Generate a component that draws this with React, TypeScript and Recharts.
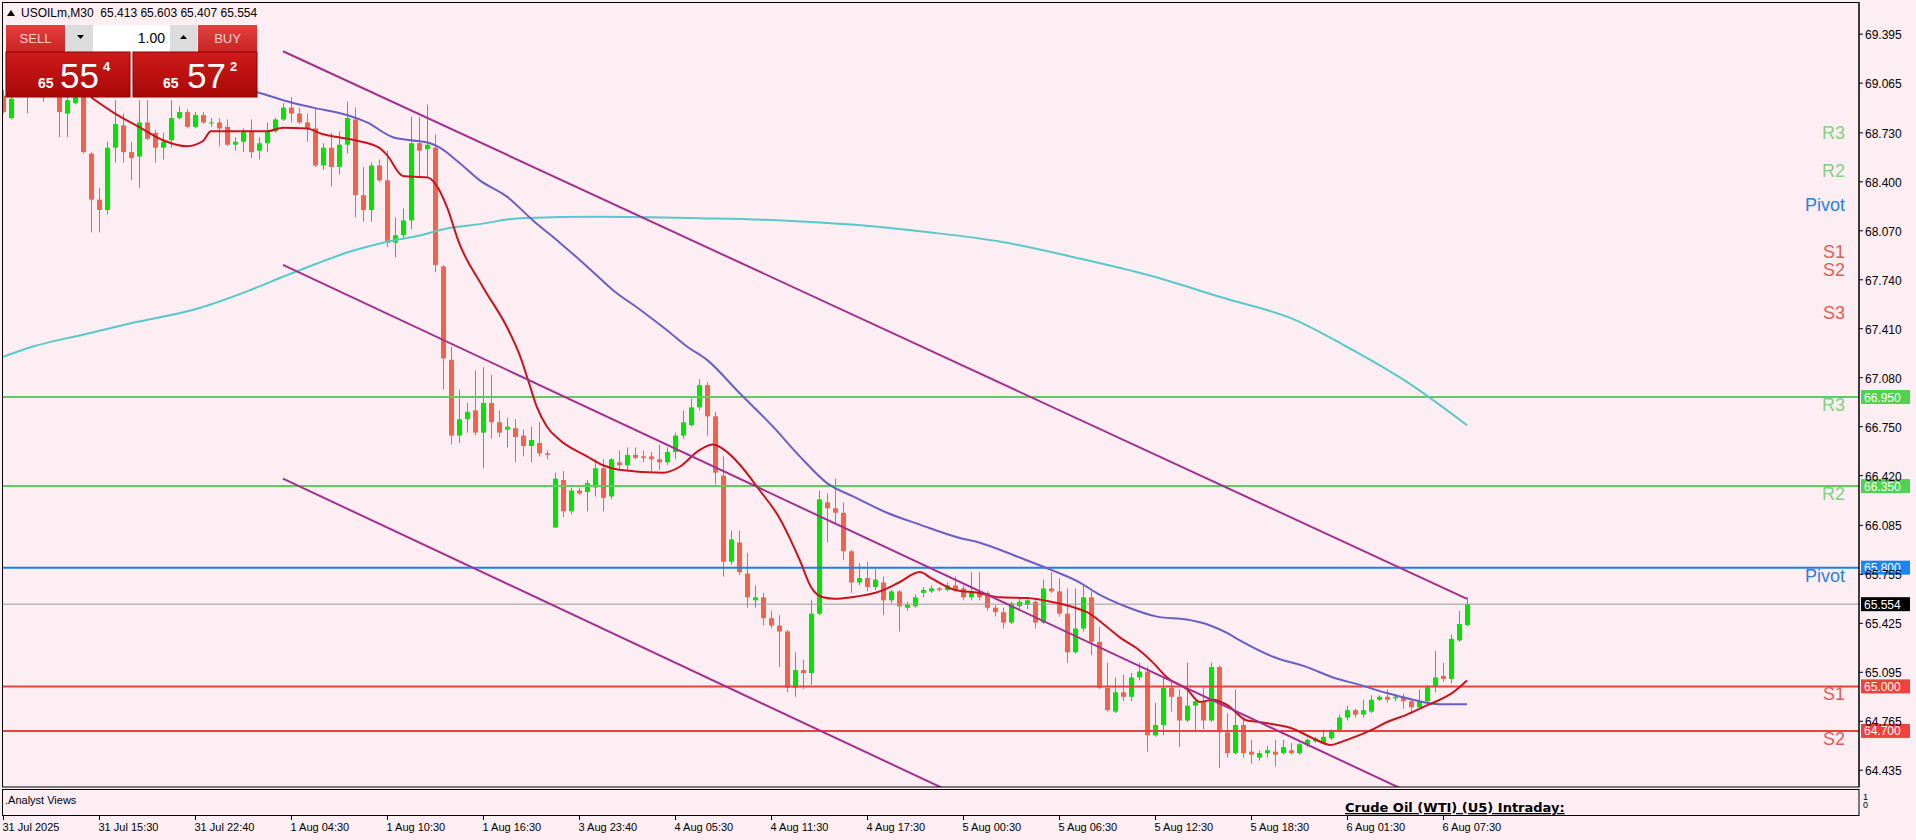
import React from 'react';
import { ComposedChart, Bar, Line, XAxis, YAxis, ReferenceLine } from 'recharts';

// USOILm M30 bars, [open, high, low, close], oldest first
const ohlc: number[][] = [
  [68.98, 69.02, 68.86, 68.87], [68.83, 68.99, 68.82, 68.96], [68.99, 69.05, 68.98, 69.02], [69.02, 69.06, 68.86, 69.0],
  [69.0, 69.04, 68.98, 69.01], [69.01, 69.03, 68.94, 68.99], [68.99, 69.04, 68.98, 69.02], [69.02, 69.05, 68.7, 68.87],
  [68.86, 68.98, 68.7, 68.95], [68.93, 68.99, 68.92, 68.97], [68.98, 69.0, 68.59, 68.6], [68.59, 68.6, 68.06, 68.28],
  [68.28, 68.36, 68.06, 68.21], [68.21, 68.67, 68.18, 68.63], [68.63, 68.95, 68.53, 68.79], [68.78, 68.86, 68.53, 68.6],
  [68.6, 68.67, 68.41, 68.56], [68.57, 68.95, 68.36, 68.8], [68.8, 68.95, 68.68, 68.69], [68.73, 68.75, 68.53, 68.63],
  [68.63, 68.73, 68.55, 68.67], [68.68, 68.95, 68.63, 68.83], [68.83, 68.91, 68.82, 68.87], [68.87, 68.89, 68.76, 68.77],
  [68.77, 68.87, 68.76, 68.85], [68.85, 68.87, 68.79, 68.8], [68.8, 68.83, 68.77, 68.8], [68.8, 68.83, 68.64, 68.76],
  [68.77, 68.82, 68.64, 68.65], [68.65, 68.7, 68.61, 68.67], [68.67, 68.76, 68.6, 68.74], [68.74, 68.82, 68.56, 68.6],
  [68.61, 68.7, 68.55, 68.66], [68.66, 68.8, 68.6, 68.74], [68.74, 68.83, 68.73, 68.82], [68.82, 68.93, 68.81, 68.9],
  [68.9, 68.97, 68.8, 68.86], [68.86, 68.9, 68.79, 68.8], [68.8, 68.86, 68.67, 68.76], [68.76, 68.9, 68.5, 68.51],
  [68.51, 68.66, 68.48, 68.63], [68.63, 68.73, 68.37, 68.5], [68.5, 68.74, 68.45, 68.65], [68.65, 68.94, 68.59, 68.83],
  [68.82, 68.9, 68.16, 68.31], [68.31, 68.5, 68.13, 68.21], [68.21, 68.53, 68.13, 68.51], [68.51, 68.55, 68.4, 68.41],
  [68.41, 68.61, 67.96, 67.99], [67.99, 68.16, 67.89, 68.04], [68.04, 68.22, 68.02, 68.14], [68.14, 68.84, 68.08, 68.66],
  [68.66, 68.84, 68.43, 68.61], [68.62, 68.92, 68.43, 68.65], [68.63, 68.72, 67.79, 67.84], [67.83, 67.84, 67.0, 67.21],
  [67.2, 67.29, 66.63, 66.69], [66.69, 67.0, 66.64, 66.8], [66.8, 66.91, 66.71, 66.85], [66.86, 67.13, 66.69, 66.71],
  [66.71, 67.15, 66.47, 66.91], [66.91, 67.1, 66.67, 66.78], [66.78, 66.86, 66.68, 66.71], [66.73, 66.81, 66.61, 66.75],
  [66.74, 66.8, 66.51, 66.68], [66.69, 66.73, 66.55, 66.62], [66.62, 66.75, 66.51, 66.66], [66.64, 66.78, 66.55, 66.57],
  [66.57, 66.59, 66.53, 66.56], [66.07, 66.44, 66.07, 66.4], [66.39, 66.45, 66.14, 66.18], [66.18, 66.34, 66.16, 66.32],
  [66.32, 66.34, 66.29, 66.3], [66.31, 66.39, 66.18, 66.37], [66.34, 66.53, 66.28, 66.47], [66.47, 66.53, 66.18, 66.27],
  [66.28, 66.54, 66.26, 66.53], [66.51, 66.59, 66.46, 66.49], [66.49, 66.61, 66.45, 66.56], [66.56, 66.61, 66.53, 66.54],
  [66.55, 66.59, 66.51, 66.54], [66.55, 66.58, 66.45, 66.53], [66.53, 66.63, 66.46, 66.51], [66.51, 66.61, 66.49, 66.58],
  [66.58, 66.71, 66.53, 66.69], [66.69, 66.86, 66.67, 66.78], [66.76, 66.94, 66.75, 66.88], [66.88, 67.07, 66.86, 67.03],
  [67.03, 67.05, 66.69, 66.82], [66.82, 66.85, 66.36, 66.44], [66.42, 66.55, 65.74, 65.84], [65.84, 66.05, 65.82, 65.99],
  [65.97, 66.05, 65.75, 65.77], [65.76, 65.9, 65.53, 65.6], [65.58, 65.68, 65.53, 65.6], [65.6, 65.63, 65.41, 65.46],
  [65.46, 65.51, 65.39, 65.41], [65.41, 65.48, 65.13, 65.37], [65.37, 65.38, 64.96, 64.99], [64.99, 65.23, 64.93, 65.11],
  [65.11, 65.18, 64.98, 65.09], [65.09, 65.58, 65.01, 65.49], [65.49, 66.32, 65.48, 66.26], [66.24, 66.3, 65.97, 66.2],
  [66.2, 66.4, 66.1, 66.17], [66.17, 66.24, 65.85, 65.91], [65.91, 65.92, 65.63, 65.7], [65.7, 65.83, 65.68, 65.73],
  [65.73, 65.84, 65.64, 65.67], [65.67, 65.79, 65.65, 65.72], [65.7, 65.74, 65.48, 65.58], [65.58, 65.65, 65.56, 65.64],
  [65.64, 65.65, 65.37, 65.54], [65.53, 65.57, 65.51, 65.55], [65.54, 65.62, 65.53, 65.6], [65.63, 65.67, 65.6, 65.65],
  [65.64, 65.68, 65.63, 65.66], [65.66, 65.67, 65.64, 65.65], [65.65, 65.7, 65.64, 65.68], [65.68, 65.74, 65.64, 65.65],
  [65.66, 65.68, 65.58, 65.6], [65.6, 65.77, 65.58, 65.64], [65.64, 65.77, 65.58, 65.6], [65.63, 65.64, 65.51, 65.53],
  [65.53, 65.55, 65.47, 65.5], [65.5, 65.53, 65.39, 65.43], [65.43, 65.57, 65.42, 65.56], [65.54, 65.6, 65.52, 65.57],
  [65.55, 65.6, 65.52, 65.58], [65.57, 65.58, 65.39, 65.43], [65.43, 65.72, 65.42, 65.66], [65.66, 65.77, 65.63, 65.64],
  [65.64, 65.73, 65.47, 65.49], [65.49, 65.66, 65.16, 65.23], [65.23, 65.66, 65.22, 65.39], [65.39, 65.68, 65.37, 65.6],
  [65.6, 65.64, 65.21, 65.3], [65.3, 65.4, 64.98, 64.99], [64.99, 65.16, 64.83, 64.84], [64.83, 65.06, 64.82, 64.96],
  [64.96, 65.08, 64.9, 64.93], [64.93, 65.09, 64.9, 65.06], [65.06, 65.16, 65.04, 65.1], [65.1, 65.13, 64.56, 64.67],
  [64.67, 64.89, 64.66, 64.74], [64.74, 65.06, 64.67, 64.99], [64.99, 65.04, 64.83, 64.93], [64.93, 64.98, 64.59, 64.77],
  [64.77, 65.16, 64.76, 64.87], [64.87, 64.91, 64.69, 64.9], [64.9, 64.99, 64.71, 64.77], [64.77, 65.16, 64.76, 65.13],
  [65.13, 65.14, 64.45, 64.69], [64.69, 64.82, 64.52, 64.55], [64.55, 64.98, 64.54, 64.74], [64.74, 64.79, 64.52, 64.55],
  [64.56, 64.64, 64.48, 64.54], [64.52, 64.57, 64.5, 64.55], [64.55, 64.6, 64.52, 64.57], [64.56, 64.64, 64.46, 64.54],
  [64.55, 64.64, 64.54, 64.59], [64.57, 64.62, 64.54, 64.55], [64.55, 64.62, 64.54, 64.61], [64.61, 64.65, 64.59, 64.64],
  [64.63, 64.66, 64.62, 64.65], [64.62, 64.71, 64.61, 64.66], [64.65, 64.71, 64.64, 64.7], [64.7, 64.81, 64.69, 64.79],
  [64.79, 64.87, 64.77, 64.84], [64.84, 64.85, 64.79, 64.81], [64.81, 64.91, 64.79, 64.84], [64.83, 64.94, 64.82, 64.91],
  [64.91, 64.94, 64.9, 64.93], [64.93, 64.98, 64.89, 64.91], [64.92, 64.95, 64.9, 64.93], [64.93, 64.95, 64.85, 64.9],
  [64.9, 64.91, 64.83, 64.86], [64.86, 64.98, 64.85, 64.9], [64.9, 65.01, 64.88, 65.0], [65.0, 65.24, 64.96, 65.06],
  [65.07, 65.16, 65.03, 65.05], [65.05, 65.35, 65.02, 65.32], [65.31, 65.51, 65.3, 65.42], [65.413, 65.603, 65.407, 65.554],
];

// moving averages, [bar index, price]
const redMA: number[][] = [
  [11, 68.97], [14, 68.86], [17, 68.77], [20, 68.68], [23, 68.64], [25, 68.675], [26, 68.74], [33, 68.74], [35, 68.765],
  [38, 68.76], [40, 68.72], [42, 68.70], [44, 68.68], [47, 68.63], [48, 68.58], [50, 68.44], [53, 68.43], [54, 68.39],
  [55.5, 68.23], [57, 67.99], [60, 67.69], [63, 67.42], [64.6, 67.23], [65.6, 67.07], [66.75, 66.88], [68, 66.75],
  [69.6, 66.66], [73, 66.55], [75, 66.49], [77, 66.46], [82.5, 66.44], [84.6, 66.48], [87, 66.59], [88.75, 66.63],
  [90.5, 66.58], [92, 66.5], [94.6, 66.32], [97, 66.14], [99.6, 65.85], [101, 65.67], [102.5, 65.6], [104, 65.59],
  [106, 65.6], [109.6, 65.64], [112, 65.7], [114.6, 65.77], [116, 65.73], [119, 65.65], [122, 65.63], [124.6, 65.6],
  [128, 65.595], [131, 65.57], [134, 65.53], [135.5, 65.5], [138, 65.4], [139.6, 65.33], [142, 65.245], [143.75, 65.16],
  [145.5, 65.06], [148, 64.98], [149.6, 64.895], [151.25, 64.91], [153, 64.875], [155.5, 64.77], [157, 64.76],
  [158.75, 64.745], [161, 64.72], [163.75, 64.65], [166, 64.605], [167, 64.62], [169, 64.66], [171, 64.705],
  [173, 64.76], [175.5, 64.81], [177.5, 64.86], [179.6, 64.91], [181.25, 64.96], [183, 65.04],
];
const blueMA: number[][] = [
  [26, 69.05], [32, 69.0], [35, 68.95], [38.75, 68.9], [43, 68.85], [45.5, 68.8], [48.75, 68.7], [51, 68.68],
  [53.4, 68.66], [54.6, 68.63], [57, 68.53], [59.6, 68.41], [63, 68.3], [66.25, 68.14], [69.6, 67.99], [73, 67.83],
  [76.25, 67.67], [79.6, 67.54], [83, 67.4], [85.5, 67.29], [88, 67.2], [92, 66.98], [96.25, 66.75], [99.6, 66.55],
  [103, 66.37], [106.25, 66.28], [110.5, 66.17], [114.6, 66.09], [119.6, 66.0], [122, 65.97], [127, 65.87],
  [131.25, 65.78], [134.6, 65.7], [137, 65.62], [140.5, 65.535], [144.25, 65.47], [148, 65.45], [150.9, 65.41],
  [153, 65.36], [154.6, 65.31], [158.75, 65.2], [163, 65.13], [166.25, 65.06], [169.6, 65.01], [173, 64.955],
  [176.25, 64.91], [179.6, 64.88], [183, 64.88],
];
const cyanMA: number[][] = [
  [0, 67.22], [3.75, 67.29], [10, 67.37], [16.25, 67.45], [24.6, 67.55], [30.9, 67.67], [35, 67.76], [39.25, 67.85],
  [43.4, 67.93], [47.5, 67.99], [51.75, 68.035], [55.9, 68.09], [59.6, 68.115], [64.6, 68.155], [74.6, 68.165],
  [87, 68.155], [97.4, 68.14], [106.5, 68.11], [115.75, 68.06], [124.9, 67.995], [134, 67.89], [143.25, 67.77],
  [152.4, 67.62], [161.5, 67.47], [167.6, 67.3], [175.25, 67.06], [183, 66.76],
];

// descending channel
const channelTop: number[][] = [[35, 69.28], [183, 65.59]];
const channelMid: number[][] = [[35, 67.84], [176, 64.28]];
const channelLow: number[][] = [[35, 66.4], [120, 64.25]];

const levelNames = ['R3', 'R2', 'Pivot', 'S1', 'S2'];
const levelValues = [66.95, 66.35, 65.8, 65.0, 64.7];
const oldLevelNames = ['R3', 'R2', 'Pivot', 'S1', 'S2', 'S3'];
const oldLevelValues = [68.78, 68.53, 68.3, 67.98, 67.86, 67.57];
const lastPrice = 65.554;

const priceTicks = [
  69.395, 69.065, 68.73, 68.4, 68.07, 67.74, 67.41, 67.08, 66.75, 66.42, 66.085, 65.755, 65.425, 65.095, 64.765, 64.435,
];
const timeTickIdx = [0, 12, 24, 36, 48, 60, 72, 84, 96, 108, 120, 132, 144, 156, 168, 180];
const timeLabels = [
  '31 Jul 2025', '31 Jul 15:30', '31 Jul 22:40', '1 Aug 04:30', '1 Aug 10:30', '1 Aug 16:30', '3 Aug 23:40',
  '4 Aug 05:30', '4 Aug 11:30', '4 Aug 17:30', '5 Aug 00:30', '5 Aug 06:30', '5 Aug 12:30', '5 Aug 18:30',
  '6 Aug 01:30', '6 Aug 07:30',
];

const BG = '#fdeef3';
const UP = '#00e400';
const DOWN = '#f2634d';
const FONT = '"Liberation Sans", Arial, sans-serif';
const levelLine = ['#5fcc5f', '#5fcc5f', '#1e7fe0', '#e3463f', '#e3463f'];
const levelText = ['#7fd27f', '#7fd27f', '#2a7fd8', '#e35b55', '#e35b55'];
const levelBox = ['#4fd34f', '#4fd34f', '#1a84f2', '#f0423a', '#f0423a'];
const oldLevelText = ['#7fd27f', '#7fd27f', '#2a7fd8', '#e35b55', '#e35b55', '#e35b55'];

const candles = ohlc.map(([open, high, low, close], i) => ({ i, open, high, low, close }));
const pts = (a: number[][]) => a.map(([i, v]) => ({ i, v }));

const Candle = (props: any) => {
  const { x, y, width, height, payload } = props;
  if (x == null || y == null || !payload) return null;
  const { open, high, low, close } = payload;
  const color = close >= open ? UP : DOWN;
  const k = high > low ? height / (high - low) : 0;
  const cx = Math.round(x + width / 2) + 0.5;
  const top = y + (high - Math.max(open, close)) * k;
  const bot = y + (high - Math.min(open, close)) * k;
  return (
    <g>
      <line x1={cx} x2={cx} y1={y} y2={y + height} stroke={color} strokeWidth={1} />
      <rect x={cx - 2.5} y={top} width={5} height={Math.max(1, bot - top)} fill={color} />
    </g>
  );
};

const PriceTick = (p: any) => (
  <g>
    <line x1={1859} x2={1863} y1={p.y} y2={p.y} stroke="#000" />
    <text x={1865} y={p.y + 5} fontSize={12} fontFamily={FONT} fill="#000">
      {Number(p.payload.value).toFixed(3)}
    </text>
  </g>
);

const TimeTick = (p: any) => {
  const n = timeTickIdx.indexOf(p.payload.value);
  const x = Math.round(p.x) + 0.5;
  return (
    <g>
      <line x1={x} x2={x} y1={816} y2={820} stroke="#000" />
      <text x={x - 1} y={831} fontSize={11} fontFamily={FONT} fill="#000">{timeLabels[n]}</text>
    </g>
  );
};

const levelLabel = (name: string, value: number, textColor: string, boxColor: string) => (p: any) => {
  const vb = p.viewBox || {};
  const right = vb.x + vb.width;
  const y = vb.y;
  return (
    <g>
      {name && (
        <text x={right - 14} y={y + 14} textAnchor="end" fontSize={18} fontFamily={FONT} fill={textColor}>{name}</text>
      )}
      {boxColor && <rect x={right + 2} y={y - 7} width={49} height={14} fill={boxColor} />}
      {boxColor && (
        <text x={right + 5} y={y + 4.5} fontSize={12} fontFamily={FONT} fill="#fff">{value.toFixed(3)}</text>
      )}
    </g>
  );
};

const Overlay = () => (
  <svg width={1916} height={840} style={{ position: 'absolute', left: 0, top: 0 }}>
    <defs>
      <linearGradient id="btn" x1="0" y1="0" x2="0" y2="1">
        <stop offset="0" stopColor="#e34040" />
        <stop offset="1" stopColor="#c82424" />
      </linearGradient>
      <linearGradient id="px" x1="0" y1="0" x2="0" y2="1">
        <stop offset="0" stopColor="#cf1a1a" />
        <stop offset="1" stopColor="#a80808" />
      </linearGradient>
    </defs>
    <rect x={2.5} y={2.5} width={1856.5} height={784.5} fill="none" stroke="#000" />
    <rect x={2.5} y={789.5} width={1856.5} height={26} fill="none" stroke="#000" />
    <text x={5} y={804} fontSize={11} fontFamily={FONT} fill="#000">.Analyst Views</text>
    <text x={1345} y={812} fontSize={13} fontWeight="bold" fontFamily='"DejaVu Sans", sans-serif' fill="#000" textDecoration="underline">
      Crude Oil (WTI) (U5) Intraday:
    </text>
    <text x={1863} y={800} fontSize={9} fontFamily={FONT} fill="#000">1</text>
    <text x={1863} y={808} fontSize={9} fontFamily={FONT} fill="#000">0</text>

    <polygon points="7,16 15,16 11,10" fill="#000" />
    <text x={21} y={17} fontSize={12} fontFamily={FONT} fill="#000" xmlSpace="preserve">USOILm,M30  65.413 65.603 65.407 65.554</text>

    <rect x={6} y={25} width={59} height={27} fill="url(#btn)" />
    <text x={35.5} y={43} textAnchor="middle" fontSize={13} fontFamily={FONT} fill="#ffd2d2">SELL</text>
    <rect x={67} y={25} width={26} height={27} fill="#dcdcdc" />
    <polygon points="77,35 84,35 80.5,39" fill="#000" />
    <rect x={93} y={25} width={77} height={27} fill="#fff" />
    <text x={165} y={43} textAnchor="end" fontSize={14} fontFamily={FONT} fill="#000">1.00</text>
    <rect x={170} y={25} width={27} height={27} fill="#dcdcdc" />
    <polygon points="180,39 187,39 183.5,35" fill="#000" />
    <rect x={198} y={25} width={59} height={27} fill="url(#btn)" />
    <text x={227.5} y={43} textAnchor="middle" fontSize={13} fontFamily={FONT} fill="#ffd2d2">BUY</text>

    <rect x={6} y={52} width={124} height={45} fill="url(#px)" stroke="#8c0000" />
    <text x={38} y={88} fontSize={14} fontWeight="bold" fontFamily={FONT} fill="#fff">65</text>
    <text x={60} y={88} fontSize={35} fontFamily={FONT} fill="#fff">55</text>
    <text x={103} y={71} fontSize={13} fontWeight="bold" fontFamily={FONT} fill="#fff">4</text>
    <rect x={133} y={52} width={124} height={45} fill="url(#px)" stroke="#8c0000" />
    <text x={163} y={88} fontSize={14} fontWeight="bold" fontFamily={FONT} fill="#fff">65</text>
    <text x={187} y={88} fontSize={35} fontFamily={FONT} fill="#fff">57</text>
    <text x={230} y={71} fontSize={13} fontWeight="bold" fontFamily={FONT} fill="#fff">2</text>
  </svg>
);

export default function App() {
  return (
    <div style={{ position: 'absolute', left: 0, top: 0, width: 1916, height: 840, background: BG, overflow: 'hidden' }}>
      <ComposedChart width={1916} height={840} data={candles} margin={{ top: 3, right: 0, bottom: 0, left: 3 }}>
        <XAxis
          dataKey="i"
          type="number"
          domain={[0, 232]}
          ticks={timeTickIdx}
          interval={0}
          height={53}
          axisLine={false}
          tickLine={false}
          tick={<TimeTick />}
          allowDataOverflow
        />
        <YAxis
          orientation="right"
          type="number"
          domain={[64.322, 69.605]}
          ticks={priceTicks}
          interval={0}
          width={57}
          axisLine={{ stroke: '#000' }}
          tickLine={false}
          tick={<PriceTick />}
          allowDataOverflow
        />
        {oldLevelValues.map((v, n) => (
          <ReferenceLine key={'o' + n} y={v} stroke="none" label={levelLabel(oldLevelNames[n], v, oldLevelText[n], '')} />
        ))}
        {levelValues.map((v, n) => (
          <ReferenceLine key={'l' + n} y={v} stroke={levelLine[n]} strokeWidth={2}
            label={levelLabel(levelNames[n], v, levelText[n], levelBox[n])} />
        ))}
        <ReferenceLine y={lastPrice} stroke="#9a9a9a" strokeWidth={1} label={levelLabel('', lastPrice, '#000', '#000')} />
        <Line data={pts(cyanMA)} dataKey="v" type="monotone" stroke="#58c9c9" strokeWidth={2} dot={false} isAnimationActive={false} />
        <Bar dataKey={(d: any) => [d.low, d.high]} barSize={5} shape={(p: any) => <Candle {...p} />} isAnimationActive={false} />
        <Line data={pts(blueMA)} dataKey="v" type="monotone" stroke="#6a5fc4" strokeWidth={2} dot={false} isAnimationActive={false} />
        <Line data={pts(redMA)} dataKey="v" type="monotone" stroke="#c8141c" strokeWidth={2} dot={false} isAnimationActive={false} />
        <Line data={pts(channelTop)} dataKey="v" type="linear" stroke="#a2308f" strokeWidth={2} dot={false} isAnimationActive={false} />
        <Line data={pts(channelMid)} dataKey="v" type="linear" stroke="#a2308f" strokeWidth={2} dot={false} isAnimationActive={false} />
        <Line data={pts(channelLow)} dataKey="v" type="linear" stroke="#a2308f" strokeWidth={2} dot={false} isAnimationActive={false} />
      </ComposedChart>
      <Overlay />
    </div>
  );
}
